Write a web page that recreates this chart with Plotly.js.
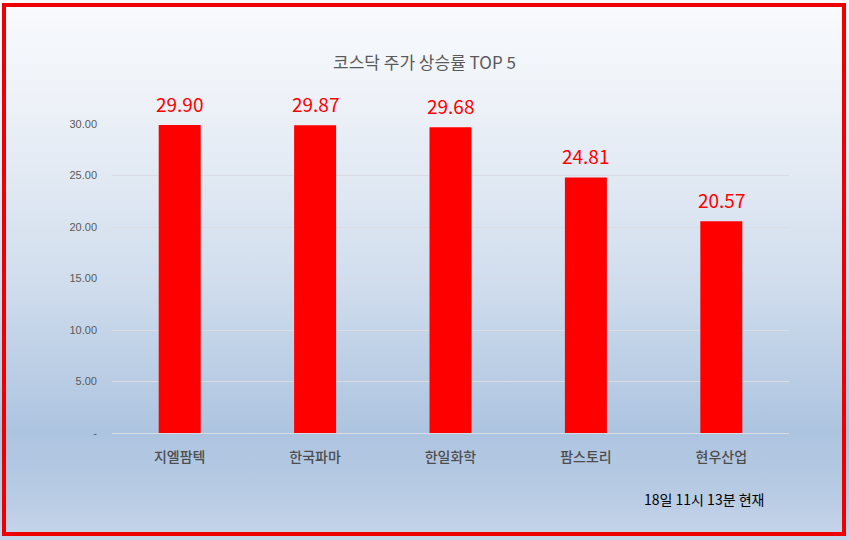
<!DOCTYPE html>
<html>
<head>
<meta charset="utf-8">
<script src="https://cdn.plot.ly/plotly-3.0.1.min.js"></script>
<style>
html,body{margin:0;padding:0;width:849px;height:540px;overflow:hidden;}
body{background:linear-gradient(to bottom,#f9fbfd 0%,#eef2f8 18%,#d3dfee 50%,#adc4e0 80%,#b6cae3 90%,#c6d5ea 100%);}
#chart{position:absolute;left:0;top:0;width:849px;height:540px;}
#frame{position:absolute;left:2px;top:3px;width:836px;height:525px;border:4px solid #ee0000;pointer-events:none;}
</style>
</head>
<body>
<div id="chart"></div>
<div id="frame"></div>
<script>
const categories = ['지엘팜텍','한국파마','한일화학','팜스토리','현우산업'];
const values = [29.90, 29.87, 29.68, 24.81, 20.57];
const tickValues = [0, 5, 10, 15, 20, 25, 30];
const tickLabels = ['-', '5.00', '10.00', '15.00', '20.00', '25.00', '30.00'];
const titleText = '코스닥 주가 상승률 TOP 5';
const noteText = '18일 11시 13분 현재';

const font = '"Noto Sans CJK KR", "Noto Sans", sans-serif';

const labelAnns = categories.map((c, i) => ({
  x: c, y: values[i], xref: 'x', yref: 'y',
  text: values[i].toFixed(2), showarrow: false,
  yanchor: 'bottom', yshift: 6,
  font: {family: font, size: 19, color: '#ff0000'}
}));

Plotly.newPlot('chart', [{
  type: 'bar',
  x: categories,
  y: values,
  marker: {color: '#ff0000'},
  hoverinfo: 'none'
}], {
  width: 849, height: 540,
  paper_bgcolor: 'rgba(0,0,0,0)',
  plot_bgcolor: 'rgba(0,0,0,0)',
  margin: {l: 112, r: 60, t: 124, b: 107},
  bargap: 0.69,
  showlegend: false,
  title: {text: titleText, x: 0.5, xanchor: 'center', y: 0.884, yanchor: 'middle',
          font: {family: font, size: 17, color: '#595959'}},
  xaxis: {
    type: 'category',
    tickfont: {family: font, size: 14, color: '#4d4d4d', weight: 500},
    showgrid: false, showline: false, zeroline: false, ticks: '',
    ticklabelstandoff: 14
  },
  yaxis: {
    range: [0, 30],
    tickvals: tickValues, ticktext: tickLabels,
    tickfont: {family: 'Liberation Sans, sans-serif', size: 11, color: '#595959'},
    showgrid: true, gridcolor: '#d9dde3', gridwidth: 1,
    zeroline: true, zerolinecolor: '#d9dde3', zerolinewidth: 1,
    showline: false, ticks: '', ticklabelstandoff: 14
  },
  annotations: labelAnns.concat([{
    text: noteText, xref: 'paper', yref: 'paper',
    x: 0.966, y: -0.215, xanchor: 'right', yanchor: 'middle', showarrow: false,
    font: {family: font, size: 14, color: '#000000'}
  }])
}, {staticPlot: true});
</script>
</body>
</html>
